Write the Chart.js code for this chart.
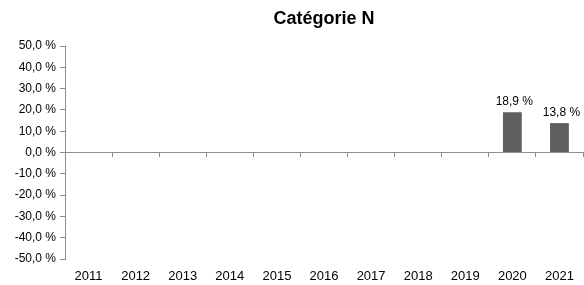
<!DOCTYPE html>
<html>
<head>
<meta charset="utf-8">
<script src="https://cdn.jsdelivr.net/npm/chart.js@4/dist/chart.umd.min.js"></script>
<style>
  html, body { margin: 0; padding: 0; background: #fff; }
  #wrap { width: 584px; height: 285px; }
</style>
</head>
<body>
<div id="wrap"><canvas id="chart"></canvas></div>
<script>
const years = ["2011", "2012", "2013", "2014", "2015", "2016", "2017", "2018", "2019", "2020", "2021"];
const values = [null, null, null, null, null, null, null, null, null, 18.9, 13.8];
const yTicks = [-50, -40, -30, -20, -10, 0, 10, 20, 30, 40, 50];

const fmt = (v) => v.toFixed(1).replace(".", ",") + " %";
const FONT = "'Liberation Sans', Arial, sans-serif";

// labels au-dessus des barres
const barLabels = {
  id: "barLabels",
  afterDatasetsDraw(chart) {
    const ctx = chart.ctx;
    const meta = chart.getDatasetMeta(0);
    ctx.save();
    ctx.font = "12px " + FONT;
    ctx.fillStyle = "#000";
    ctx.textAlign = "center";
    ctx.textBaseline = "alphabetic";
    meta.data.forEach((bar, i) => {
      const v = values[i];
      if (v === null) return;
      ctx.fillText(fmt(v), bar.x + 2, bar.y - 7);
    });
    ctx.restore();
  }
};

const axisColor = "#8c8c8c";

new Chart(document.getElementById("chart"), {
  type: "bar",
  data: {
    labels: years,
    datasets: [{
      data: values,
      backgroundColor: "#5f5f5f",
      borderWidth: 0,
      barPercentage: 0.5,
      categoryPercentage: 0.8
    }]
  },
  options: {
    responsive: true,
    maintainAspectRatio: false,
    animation: false,
    layout: { padding: { top: 8, right: 1, bottom: 0, left: 0 } },
    plugins: {
      legend: { display: false },
      tooltip: { enabled: false },
      title: {
        display: true,
        text: "Catégorie N",
        fullSize: false,
        color: "#000",
        font: { family: FONT, size: 18, weight: "bold" },
        padding: { top: 0, bottom: 16.4 }
      }
    },
    scales: {
      x: {
        position: "bottom",
        offset: true,
        grid: { display: false, drawTicks: false },
        border: { display: false },
        afterFit(scale) {
          scale.height = 26;
        },
        ticks: {
          color: "#000",
          padding: 10,
          maxRotation: 0,
          autoSkip: false,
          font: { family: FONT, size: 13 }
        }
      },
      x0: {
        type: "category",
        position: { y: 0 },
        offset: true,
        grid: { offset: true, drawOnChartArea: false, drawTicks: true, tickLength: 4, color: axisColor },
        border: { display: true, color: axisColor },
        ticks: { display: false }
      },
      y: {
        min: -50,
        max: 50,
        afterBuildTicks(scale) {
          scale.ticks = yTicks.map((v) => ({ value: v }));
        },
        afterFit(scale) {
          scale.width = 65;
        },
        grid: { drawOnChartArea: false, drawTicks: true, tickLength: 5, color: axisColor },
        border: { display: true, color: axisColor },
        ticks: {
          color: "#000",
          padding: 4,
          font: { family: FONT, size: 12 },
          callback: (v) => fmt(v)
        }
      }
    }
  },
  plugins: [barLabels]
});
</script>
</body>
</html>
